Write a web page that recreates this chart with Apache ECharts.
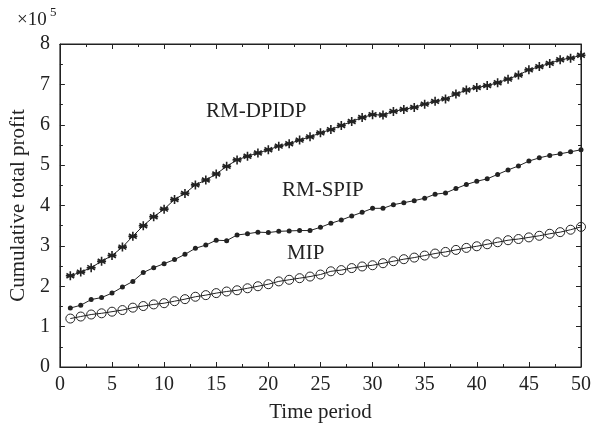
<!DOCTYPE html>
<html>
<head>
<meta charset="utf-8">
<script src="https://cdn.jsdelivr.net/npm/echarts@6/dist/echarts.min.js"></script>
<style>
  html, body { margin: 0; padding: 0; background: #fff; }
  #chart { width: 594px; height: 430px; }
</style>
</head>
<body>
<div id="chart"></div>
<script>
// time periods 1..50, values in units of 10^5
const periods = [1,2,3,4,5,6,7,8,9,10,11,12,13,14,15,16,17,18,19,20,21,22,23,24,25,
  26,27,28,29,30,31,32,33,34,35,36,37,38,39,40,41,42,43,44,45,46,47,48,49,50]

const profitDPIDP = [2.26, 2.35, 2.46, 2.62, 2.76, 2.97, 3.24, 3.5, 3.72, 3.91,
  4.15, 4.3, 4.51, 4.63, 4.78, 4.97, 5.13, 5.22, 5.3, 5.38,
  5.47, 5.53, 5.62, 5.7, 5.8, 5.88, 5.98, 6.08, 6.18, 6.25,
  6.24, 6.33, 6.38, 6.43, 6.51, 6.58, 6.64, 6.76, 6.86, 6.92,
  6.97, 7.04, 7.13, 7.23, 7.36, 7.44, 7.52, 7.61, 7.65, 7.72]

const profitSPIP = [1.46, 1.53, 1.67, 1.72, 1.83, 1.98, 2.12, 2.34, 2.46, 2.56,
  2.66, 2.79, 2.94, 3.02, 3.14, 3.13, 3.27, 3.3, 3.34, 3.33,
  3.36, 3.37, 3.38, 3.38, 3.46, 3.56, 3.64, 3.74, 3.83, 3.93,
  3.93, 4.02, 4.07, 4.12, 4.18, 4.28, 4.31, 4.42, 4.52, 4.6,
  4.66, 4.77, 4.88, 4.98, 5.1, 5.18, 5.24, 5.28, 5.33, 5.38]

const profitMIP = [1.2, 1.25, 1.3, 1.33, 1.37, 1.41, 1.47, 1.51, 1.55, 1.58,
  1.63, 1.68, 1.74, 1.78, 1.83, 1.87, 1.9, 1.95, 2.0, 2.05,
  2.12, 2.16, 2.2, 2.24, 2.29, 2.37, 2.4, 2.45, 2.49, 2.52,
  2.57, 2.62, 2.67, 2.71, 2.76, 2.81, 2.85, 2.9, 2.95, 2.99,
  3.04, 3.09, 3.14, 3.17, 3.21, 3.25, 3.3, 3.34, 3.4, 3.47]

const seriesNames = ['RM-DPIDP', 'RM-SPIP', 'MIP']

const font = 'Liberation Serif'
const ink = '#222'

const pairs = (ys) => periods.map((x, i) => [x, ys[i]])

const asterisk = 'path://M0,-5L0,5M-4.3,-2.5L4.3,2.5M-4.3,2.5L4.3,-2.5M-5,0L5,0'

const baseAxis = {
  axisLine: { show: true, onZero: false, lineStyle: { color: ink, width: 1 } },
  axisTick: { show: true, inside: true, length: 5, lineStyle: { color: ink } },
  minorTick: { show: true, splitNumber: 2, length: 3, lineStyle: { color: ink } },
  splitLine: { show: false }
}

const chart = echarts.init(document.getElementById('chart'))

chart.setOption({
  animation: false,
  grid: { left: 58, right: 10, top: 44, bottom: 63, show: true, borderColor: ink, borderWidth: 1 },
  xAxis: [
    {
      ...baseAxis,
      type: 'value', min: 0, max: 50, interval: 5,
      name: 'Time period', nameLocation: 'middle', nameGap: 35,
      nameTextStyle: { fontFamily: font, fontSize: 21, color: ink },
      axisLabel: { fontFamily: font, fontSize: 20, color: ink, margin: 8 }
    },
    {
      ...baseAxis,
      type: 'value', min: 0, max: 50, interval: 5, position: 'top',
      axisLabel: { show: false }
    }
  ],
  yAxis: [
    {
      ...baseAxis,
      type: 'value', min: 0, max: 8, interval: 1,
      name: 'Cumulative total profit', nameLocation: 'middle', nameGap: 30,
      nameTextStyle: { fontFamily: font, fontSize: 21, color: ink },
      axisLabel: { fontFamily: font, fontSize: 20, color: ink, margin: 10 }
    },
    {
      ...baseAxis,
      type: 'value', min: 0, max: 8, interval: 1, position: 'right',
      axisLabel: { show: false }
    }
  ],
  graphic: [
    { type: 'text', left: 17, top: 11, style: { text: '×10', fill: ink, font: `19px "${font}"` } },
    { type: 'text', left: 50, top: 6, style: { text: '5', fill: ink, font: `13px "${font}"` } },
    { type: 'text', left: 206, top: 101, style: { text: seriesNames[0], fill: ink, font: `21px "${font}"` } },
    { type: 'text', left: 282, top: 180, style: { text: seriesNames[1], fill: ink, font: `21px "${font}"` } },
    { type: 'text', left: 287, top: 243, style: { text: seriesNames[2], fill: ink, font: `21px "${font}"` } }
  ],
  series: [
    {
      name: seriesNames[0], type: 'line', data: pairs(profitDPIDP),
      symbol: asterisk, symbolSize: 9,
      itemStyle: { color: 'none', borderColor: ink, borderWidth: 1.6 },
      lineStyle: { color: ink, width: 1 }
    },
    {
      name: seriesNames[1], type: 'line', data: pairs(profitSPIP),
      symbol: 'circle', symbolSize: 5,
      itemStyle: { color: ink },
      lineStyle: { color: ink, width: 1 }
    },
    {
      name: seriesNames[2], type: 'line', data: pairs(profitMIP),
      symbol: 'circle', symbolSize: 9,
      itemStyle: { color: 'transparent', borderColor: ink, borderWidth: 1 },
      lineStyle: { color: ink, width: 1 }
    }
  ]
})
</script>
</body>
</html>
